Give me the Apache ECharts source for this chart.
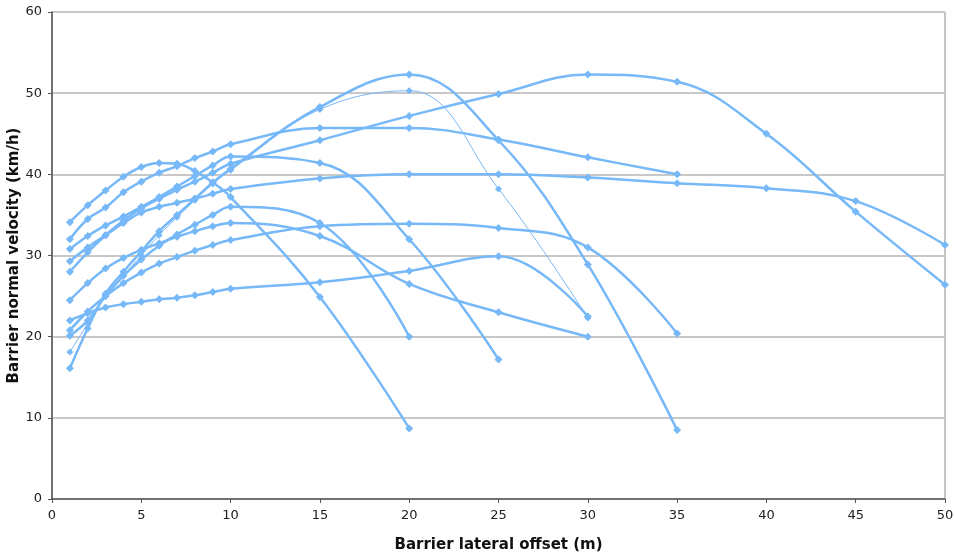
<!DOCTYPE html>
<html><head><meta charset="utf-8">
<script src="https://cdn.jsdelivr.net/npm/echarts@6/dist/echarts.min.js"></script>
<style>html,body{margin:0;padding:0;background:#fff}#c{width:955px;height:556px}</style>
</head><body><div id="c"></div>
<script>
const X = [1,2,3,4,5,6,7,8,9,10,15,20,25,30,35,40,45,50];
const s01 = [34.1,36.2,38.0,39.7,40.9,41.4,41.3,40.4,39.0,37.2,24.9,8.7];
const s02 = [32.0,34.5,35.9,37.8,39.1,40.2,41.0,42.0,42.8,43.7,45.7,45.7,44.3,42.1,40.0];
const s03 = [30.8,32.4,33.7,34.8,36.0,37.2,38.5,39.8,41.1,42.2,41.4,32.0,17.2];
const s04 = [29.3,31.0,32.5,34.0,35.3,36.0,36.5,37.0,37.6,38.2,39.5,40.0,40.0,39.6,38.9,38.3,36.7,31.3];
const s05 = [28.0,30.4,32.5,34.3,35.8,37.0,38.1,39.1,40.2,41.3,44.2,47.2,49.9,52.3,51.4,45.0,35.4,26.4];
const s06 = [24.5,26.6,28.4,29.7,30.7,31.5,32.3,33.0,33.6,34.0,32.4,26.5,23.0,20.0];
const s07 = [22.0,22.9,23.6,24.0,24.3,24.6,24.8,25.1,25.5,25.9,26.7,28.1,29.9,22.5];
const s08 = [20.8,23.1,25.0,26.6,27.9,29.0,29.8,30.6,31.3,31.9,33.6,33.9,33.4,31.0,20.4];
const s09 = [20.1,22.0,25.0,27.5,29.5,31.2,32.6,33.8,35.0,36.0,34.0,20.0];
const s10 = [16.1,21.0,25.3,28.0,30.5,33.0,35.0,37.0,39.0,40.7,48.3,52.3,44.2,28.9,8.5];
const s11 = [18.1,21.6,25.0,27.5,30.0,32.5,34.7,36.8,38.8,40.5,48.0,50.3,38.2,22.3];
const thick = [s01,s02,s03,s04,s05,s06,s07,s08,s09,s10];
const thin = [s11];
const color = '#76b8f8';
function mk(vals, w){
  return {type:'line', data: vals.map((v,i)=>[X[i],v]), smooth:0.4, smoothConstraint:false,
    symbol:'diamond', symbolSize: w>1.5?8:7,
    lineStyle:{color:color,width:w}, itemStyle:{color:color}, emphasis:{disabled:true}};
}
const series = thick.map(v=>mk(v,2.5)).concat(thin.map(v=>mk(v,1)));
const chart = echarts.init(document.getElementById('c'));
chart.setOption({
  animation:false,
  backgroundColor:'#fff',
  grid:{left:52,right:10,top:12,bottom:57,containLabel:false,outerBoundsMode:'none',show:true,borderColor:'#8a8a8a',borderWidth:1},
  xAxis:{type:'value',min:0,max:50,interval:5,
    name:'Barrier lateral offset (m)',nameLocation:'middle',nameGap:39,
    nameTextStyle:{fontFamily:'DejaVu Sans',fontWeight:'bold',fontSize:15,color:'#111'},
    axisLine:{lineStyle:{color:'#555',width:1.5}},axisTick:{show:true,length:4,lineStyle:{color:'#555'}},
    axisLabel:{fontFamily:'DejaVu Sans',fontSize:13,color:'#222',margin:10},
    splitLine:{show:false}},
  yAxis:{type:'value',min:0,max:60,interval:10,
    name:'Barrier normal velocity (km/h)',nameLocation:'middle',nameGap:30,nameMoveOverlap:false,
    nameTextStyle:{fontFamily:'DejaVu Sans',fontWeight:'bold',fontSize:15,color:'#111'},
    axisLine:{show:true,lineStyle:{color:'#555',width:1.5}},axisTick:{show:true,length:4,lineStyle:{color:'#555'}},
    axisLabel:{fontFamily:'DejaVu Sans',fontSize:13,color:'#222',margin:10},
    splitLine:{show:true,lineStyle:{color:'#c8c8c8',width:2}}},
  series: series
});
</script></body></html>
